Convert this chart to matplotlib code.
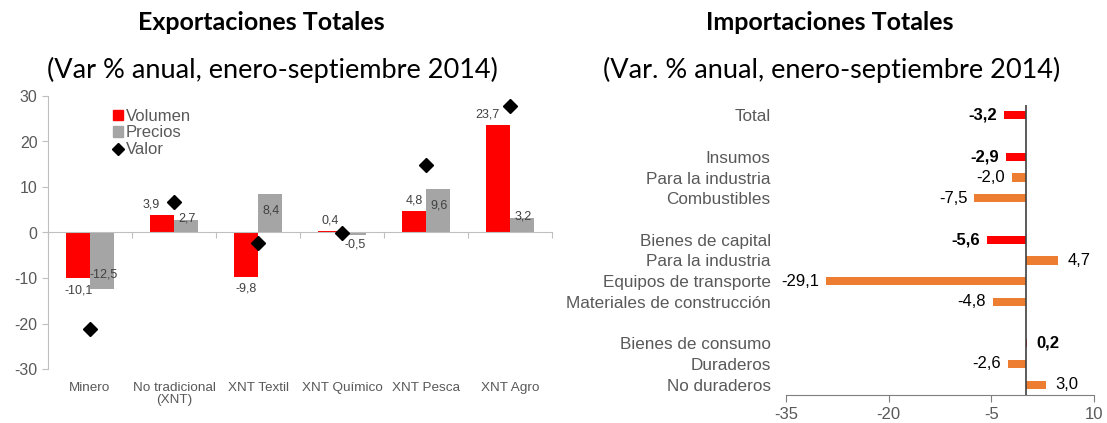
import numpy as np
import matplotlib
matplotlib.use("Agg")
from matplotlib import pyplot as plt
from matplotlib.lines import Line2D
from matplotlib.patches import Patch

# datos exportaciones
exp_cats = ["Minero", "No tradicional\n(XNT)", "XNT Textil", "XNT Químico", "XNT Pesca", "XNT Agro"]
volumen = [-10.1, 3.9, -9.8, 0.4, 4.8, 23.7]
precios = [-12.5, 2.7, 8.4, -0.5, 9.6, 3.2]
valor = [-21.2, 6.7, -2.3, -0.1, 14.8, 27.7]

# datos importaciones ('' = fila vacía)
imp_cats = ["Total", "", "Insumos", "Para la industria", "Combustibles", "",
            "Bienes de capital", "Para la industria", "Equipos de transporte",
            "Materiales de construcción", "", "Bienes de consumo", "Duraderos", "No duraderos"]
imp_vals = [-3.2, None, -2.9, -2.0, -7.5, None, -5.6, 4.7, -29.1, -4.8, None, 0.2, -2.6, 3.0]
headers = ["Total", "Insumos", "Bienes de capital", "Bienes de consumo"]

RED = "#FF0000"
GRAY = "#A5A5A5"
ORANGE = "#ED7D31"
TXT = "#595959"

plt.rcParams['font.family'] = ['Liberation Sans', 'DejaVu Sans']
plt.rcParams['axes.unicode_minus'] = False

def fmt(v):
    return ("%.1f" % v).replace(".", ",")

W, H = 1107, 423
fig = plt.figure(figsize=(W / 100, H / 100), dpi=100)

# ---------- Exportaciones ----------
ax1 = fig.add_axes([48 / W, 1 - 369 / H, 504 / W, 273 / H])
x = np.arange(len(exp_cats))
bw = 0.28
ax1.bar(x - bw / 2, volumen, bw, color=RED, label="Volumen", zorder=2)
ax1.bar(x + bw / 2, precios, bw, color=GRAY, label="Precios", zorder=2)
ax1.plot(x, valor, "D", color="black", ms=7, label="Valor", zorder=3)

for i in range(len(x)):
    v = volumen[i]
    dx = 0
    if valor[i] > v and valor[i] - v < 6:
        dx = -8
    if v >= 0:
        ax1.annotate(fmt(v), (x[i] - bw / 2, v), xytext=(dx, 3), textcoords="offset points",
                     ha="center", va="bottom", fontsize=9, color="#404040")
    else:
        ax1.annotate(fmt(v), (x[i] - bw / 2, v), xytext=(dx, -4), textcoords="offset points",
                     ha="center", va="top", fontsize=9, color="#404040")
    p = precios[i]
    if abs(p) > 5:
        dy = -12 if p > 0 else 11
        ax1.annotate(fmt(p), (x[i] + bw / 2, p), xytext=(1, dy), textcoords="offset points",
                     ha="center", va="center", fontsize=9, color="#404040", zorder=4)
    elif p > 0:
        ax1.annotate(fmt(p), (x[i] + bw / 2, p), xytext=(1, 1), textcoords="offset points",
                     ha="center", va="center", fontsize=9, color="#404040", zorder=4)
    else:
        ax1.annotate(fmt(p), (x[i] + bw / 2, p), xytext=(1, -3), textcoords="offset points",
                     ha="center", va="top", fontsize=9, color="#404040", zorder=4)

ax1.set_xlim(-0.5, len(x) - 0.5)
ax1.set_ylim(-30, 30)
ax1.set_yticks(np.arange(-30, 31, 10))
ax1.tick_params(axis="y", colors="#BFBFBF", labelcolor=TXT, labelsize=11.5, length=4, direction="out")
for s in ["top", "right"]:
    ax1.spines[s].set_visible(False)
ax1.spines["left"].set_color("#BFBFBF")
ax1.spines["bottom"].set_position(("data", 0))
ax1.spines["bottom"].set_color("#BFBFBF")
ax1.set_xticks(np.arange(-0.5, len(x), 1))
ax1.set_xticklabels([])
ax1.tick_params(axis="x", colors="#BFBFBF", length=4, direction="out")
sec = ax1.secondary_xaxis("bottom")
sec.set_xticks(x)
sec.set_xticklabels(exp_cats, fontsize=9.7, color=TXT, linespacing=1.1)
sec.tick_params(length=0, pad=9)
sec.spines["bottom"].set_visible(False)

handles = [Patch(color=RED, label="Volumen"), Patch(color=GRAY, label="Precios"),
           Line2D([], [], marker="D", color="black", ls="none", ms=6.5, label="Valor")]
leg = ax1.legend(handles=handles, loc="upper left", bbox_to_anchor=(0.128, 0.953), frameon=False,
                 fontsize=12, handlelength=0.6, handleheight=0.6, handletextpad=0.2,
                 labelspacing=0.1, borderpad=0, borderaxespad=0)
for t in leg.get_texts():
    t.set_color(TXT)

fig.text(261 / W, 1 - 22 / H, "Exportaciones Totales", ha="center", va="center",
         fontsize=18, fontweight="bold", family=["Lato", "DejaVu Sans"])
fig.text(272 / W, 1 - 70 / H, "(Var % anual, enero-septiembre 2014)", ha="center", va="center",
         fontsize=19.5, family=["Lato", "DejaVu Sans"])

# ---------- Importaciones ----------
ax2 = fig.add_axes([786 / W, 1 - 395 / H, 308 / W, 290 / H])
rows = np.arange(len(imp_cats))
for r, name, v in zip(rows, imp_cats, imp_vals):
    if v is None:
        continue
    head = name in headers and r in (0, 2, 6, 11)
    ax2.barh(r, v, height=0.4, color=RED if head else ORANGE, zorder=2)
    if v < 0:
        ax2.annotate(fmt(v), (v, r), xytext=(-5, 0), textcoords="offset points", ha="right",
                     va="center", fontsize=12, color="black", fontweight="bold" if head else "normal")
    else:
        ax2.annotate(fmt(v), (v, r), xytext=(7, 0), textcoords="offset points", ha="left",
                     va="center", fontsize=12, color="black", fontweight="bold" if head else "normal")

ax2.set_ylim(len(imp_cats) - 0.5, -0.5)
ax2.set_yticks(rows)
ax2.set_yticklabels(imp_cats, fontsize=12.3, color=TXT)
ax2.tick_params(axis="y", length=0, pad=11)
ax2.set_xlim(-35, 10)
ax2.set_xticks([-35, -20, -5, 10])
ax2.tick_params(axis="x", colors="#7F7F7F", labelcolor=TXT, labelsize=12, length=5, direction="out")
for s in ["top", "right", "left"]:
    ax2.spines[s].set_visible(False)
ax2.spines["bottom"].set_color("#7F7F7F")
ax2.axvline(0, color="#404040", lw=1.2, zorder=3)

fig.text(830 / W, 1 - 22 / H, "Importaciones Totales", ha="center", va="center",
         fontsize=18, fontweight="bold", family=["Lato", "DejaVu Sans"])
fig.text(832 / W, 1 - 70 / H, "(Var. % anual, enero-septiembre 2014)", ha="center", va="center",
         fontsize=19.5, family=["Lato", "DejaVu Sans"])

fig.savefig("out.png", dpi=100)
